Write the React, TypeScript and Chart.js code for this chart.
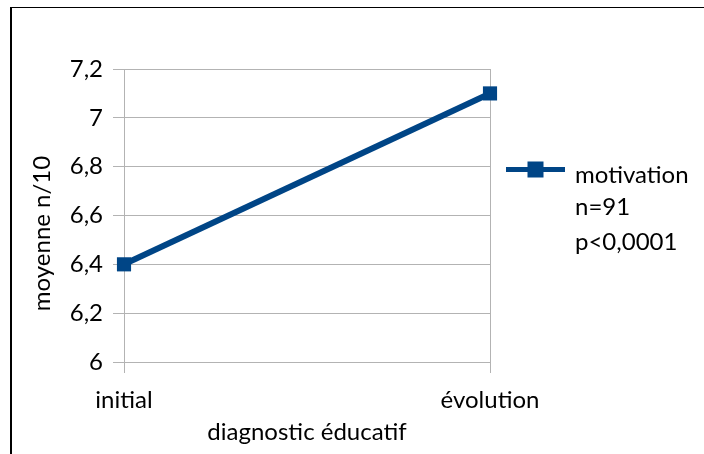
import React, { useEffect, useRef } from 'react';
import { Chart, registerables } from 'chart.js';
Chart.register(...registerables);

const categories = ['initial', 'évolution'];
const motivation = [6.4, 7.1];
const seriesLabel = 'motivation';
const legendExtra = ['n=91', 'p<0,0001'];
const yMin = 6;
const yMax = 7.2;
const yStep = 0.2;
const xTitle = 'diagnostic éducatif';
const yTitle = 'moyenne n/10';

const BLUE = '#004586';
const GRID = '#b3b3b3';
const FONT = 'Lato';
const FSIZE = 24;

const fmt = (v: number) => String(Number(Number(v).toFixed(1))).replace('.', ',');

const overlay = {
  id: 'overlay',
  afterDraw(chart: any) {
    const ctx = chart.ctx;
    const a = chart.chartArea;
    ctx.save();
    ctx.fillStyle = '#000';
    ctx.font = `${FSIZE}px ${FONT}`;
    // y title
    ctx.save();
    ctx.translate(a.left - 82, (a.top + a.bottom) / 2 + 18);
    ctx.rotate(-Math.PI / 2);
    ctx.textAlign = 'center';
    ctx.textBaseline = 'middle';
    ctx.fillText(yTitle, 0, 0);
    ctx.restore();
    // legend
    const lx = a.right + 16;
    const ly = 169.5;
    ctx.strokeStyle = BLUE;
    ctx.lineWidth = 5;
    ctx.beginPath();
    ctx.moveTo(lx, ly);
    ctx.lineTo(lx + 59, ly);
    ctx.stroke();
    ctx.fillStyle = BLUE;
    ctx.fillRect(lx + 29.5 - 8, ly - 8, 16, 16);
    ctx.fillStyle = '#000';
    ctx.textAlign = 'left';
    ctx.textBaseline = 'alphabetic';
    const tx = lx + 69;
    ctx.fillText(seriesLabel, tx, 182.5);
    ctx.fillText(legendExtra[0], tx, 214.5);
    ctx.fillText(legendExtra[1], tx, 250);
    ctx.restore();
  },
};

export default function App() {
  const ref = useRef<HTMLCanvasElement | null>(null);
  useEffect(() => {
    if (!ref.current) return;
    Chart.defaults.font.family = FONT;
    Chart.defaults.font.size = FSIZE;
    Chart.defaults.color = '#000';
    const chart = new Chart(ref.current, {
      type: 'line',
      data: {
        labels: categories,
        datasets: [
          {
            label: seriesLabel,
            data: motivation,
            borderColor: BLUE,
            backgroundColor: BLUE,
            borderWidth: 6,
            pointStyle: 'rect',
            pointRadius: 10,
            pointHoverRadius: 10,
            pointBorderWidth: 0,
            tension: 0,
            clip: false,
          } as any,
        ],
      },
      options: {
        responsive: false,
        animation: false,
        layout: { padding: { left: 10, top: 69, right: 214, bottom: 0 } },
        plugins: { legend: { display: false }, tooltip: { enabled: false } },
        scales: {
          x: {
            offset: false,
            grid: { color: GRID, lineWidth: 1, tickLength: 11, drawTicks: true, offset: false },
            border: { color: GRID, width: 1 },
            ticks: { padding: 13, font: { size: FSIZE, family: FONT }, color: '#000', maxRotation: 0 },
            title: {
              display: true,
              text: xTitle,
              font: { size: FSIZE, family: FONT },
              color: '#000',
              padding: { top: 0, bottom: 7 },
            },
            afterFit: (s: any) => {
              s.height = 92;
            },
          },
          y: {
            min: yMin,
            max: yMax,
            grid: { color: GRID, lineWidth: 1, tickLength: 11, drawTicks: true },
            border: { color: GRID, width: 1 },
            ticks: {
              stepSize: yStep,
              padding: 10,
              font: { size: FSIZE, family: FONT },
              color: '#000',
              callback: (v: any) => fmt(v),
            },
            afterFit: (s: any) => {
              s.width = 114;
            },
          },
        },
      },
      plugins: [overlay],
    });
    return () => chart.destroy();
  }, []);
  return (
    <div style={{ position: 'fixed', left: 0, top: 0, width: 704, height: 454, overflow: 'hidden', background: '#fff' }}>
      <div
        style={{
          position: 'absolute',
          left: 10,
          top: 7,
          width: 800,
          height: 600,
          borderLeft: '2px solid #000',
          borderTop: '1px solid #000',
        }}
      />
      <canvas ref={ref} width={704} height={454} style={{ position: 'absolute', left: 0, top: 0, display: 'block' }} />
    </div>
  );
}
